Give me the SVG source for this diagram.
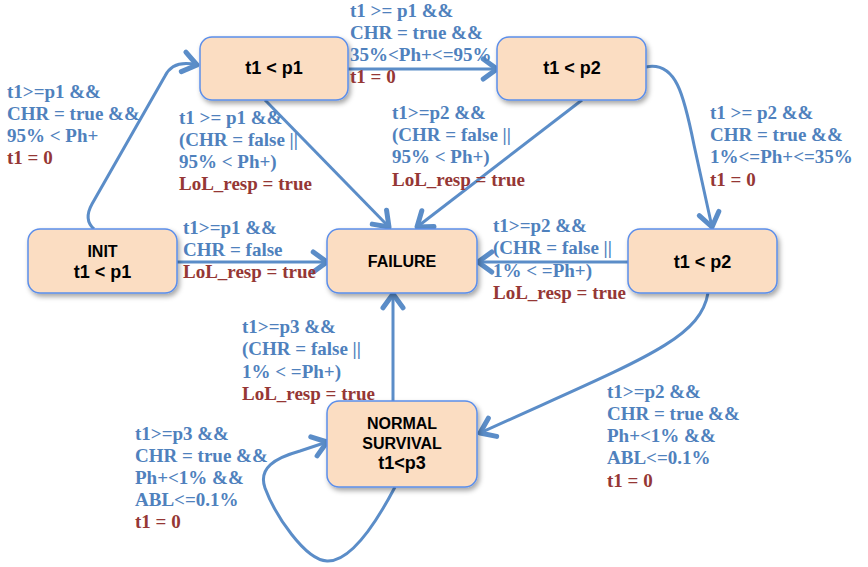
<svg xmlns="http://www.w3.org/2000/svg" width="868" height="567" viewBox="0 0 868 567">
<defs>
<filter id="sh" x="-10%" y="-10%" width="130%" height="140%">
<feDropShadow dx="2" dy="3" stdDeviation="2.5" flood-color="#000" flood-opacity="0.35"/>
</filter>
<marker id="ah" markerUnits="userSpaceOnUse" markerWidth="30" markerHeight="30" refX="0" refY="0" viewBox="-16 -12 20 24" orient="auto" overflow="visible">
<path d="M-11,-8 L0,0 L-11,8" fill="none" stroke="#5B8DC8" stroke-width="4" stroke-linecap="round" stroke-linejoin="round"/>
</marker>
<style>
.n rect{fill:#FBDDC2;stroke:#5B8EEA;stroke-width:1.5;filter:url(#sh)}
.n text{font-family:"Liberation Sans",Arial,sans-serif;font-weight:bold;fill:#000;text-anchor:middle}
.s16{font-size:16px}
.s18{font-size:18px}
.c path{fill:none;stroke:#5B8DC8;stroke-width:3;marker-end:url(#ah)}
.l{font-family:"Liberation Serif","Times New Roman",serif;font-weight:bold;font-size:19px}
.b{fill:#4F81BD}
.r{fill:#953735}
</style>
</defs>
<g class="c" id="connectors">
<path d="M94,229 C86,222 87,213 92,204 L165,76 C170,66 180,61 197,65"/>
<path d="M348,69 L497,69"/>
<path d="M265,100 L389,227"/>
<path d="M582,100 L417,227"/>
<path d="M646,67 C676,61 684,95 694,145 L712,227"/>
<path d="M628,262 L478,262"/>
<path d="M177,262 L327,262"/>
<path d="M393,401 L393,294"/>
<path d="M708,293 C700,340 640,360 480,433"/>
<path d="M395,487 C375,525 350,562 327,561 C305,560 275,515 265,488 C258,468 275,458 300,451 L327,442"/>
</g>
<g class="n" id="n_top1"><rect x="200" y="37" width="148" height="63" rx="12"/><text class="s18" x="274" y="74">t1 &lt; p1</text></g>
<g class="n" id="n_top2"><rect x="497" y="37" width="149" height="63" rx="12"/><text class="s18" x="572" y="74">t1 &lt; p2</text></g>
<g class="n" id="n_init"><rect x="28" y="229" width="149" height="64" rx="12"/><text class="s16" x="102.5" y="257">INIT</text><text class="s18" x="102.5" y="278">t1 &lt; p1</text></g>
<g class="n" id="n_failure"><rect x="327" y="229" width="150" height="64" rx="12"/><text class="s16" x="402" y="267">FAILURE</text></g>
<g class="n" id="n_right"><rect x="628" y="229" width="149" height="64" rx="12"/><text class="s18" x="702.5" y="268">t1 &lt; p2</text></g>
<g class="n" id="n_normal"><rect x="327" y="401" width="150" height="86" rx="12"/><text class="s16" x="402" y="429">NORMAL</text><text class="s16" x="402" y="449">SURVIVAL</text><text class="s18" x="402" y="469">t1&lt;p3</text></g>
<g id="labels" class="l">
<text x="7" y="98" class="b">t1&gt;=p1 &amp;&amp;</text>
<text x="7" y="120" class="b">CHR = true &amp;&amp;</text>
<text x="7" y="142" class="b">95% &lt; Ph+</text>
<text x="7" y="164" class="r">t1 = 0</text>

<text x="179" y="124" class="b">t1 &gt;= p1 &amp;&amp;</text>
<text x="179" y="146" class="b">(CHR = false ||</text>
<text x="179" y="168" class="b">95% &lt; Ph+)</text>
<text x="179" y="190" class="r">LoL_resp = true</text>

<text x="350" y="17" class="b">t1 &gt;= p1 &amp;&amp;</text>
<text x="350" y="39" class="b">CHR = true &amp;&amp;</text>
<text x="350" y="61" class="b">35%&lt;Ph+&lt;=95%</text>
<text x="350" y="83" class="r">t1 = 0</text>

<text x="392" y="119" class="b">t1&gt;=p2 &amp;&amp;</text>
<text x="392" y="141" class="b">(CHR = false ||</text>
<text x="392" y="163" class="b">95% &lt; Ph+)</text>
<text x="392" y="186" class="r">LoL_resp = true</text>

<text x="710" y="119" class="b">t1 &gt;= p2 &amp;&amp;</text>
<text x="710" y="141" class="b">CHR = true &amp;&amp;</text>
<text x="710" y="163" class="b">1%&lt;=Ph+&lt;=35%</text>
<text x="710" y="186" class="r">t1 = 0</text>

<text x="183" y="234" class="b">t1&gt;=p1 &amp;&amp;</text>
<text x="183" y="256" class="b">CHR = false</text>
<text x="183" y="278" class="r">LoL_resp = true</text>

<text x="493" y="232" class="b">t1&gt;=p2 &amp;&amp;</text>
<text x="493" y="254" class="b">(CHR = false ||</text>
<text x="493" y="277" class="b">1% &lt; =Ph+)</text>
<text x="493" y="299" class="r">LoL_resp = true</text>

<text x="242" y="333" class="b">t1&gt;=p3 &amp;&amp;</text>
<text x="242" y="355" class="b">(CHR = false ||</text>
<text x="242" y="378" class="b">1% &lt; =Ph+)</text>
<text x="242" y="400" class="r">LoL_resp = true</text>

<text x="607" y="398" class="b">t1&gt;=p2 &amp;&amp;</text>
<text x="607" y="420" class="b">CHR = true &amp;&amp;</text>
<text x="607" y="442" class="b">Ph+&lt;1% &amp;&amp;</text>
<text x="607" y="464" class="b">ABL&lt;=0.1%</text>
<text x="607" y="487" class="r">t1 = 0</text>

<text x="135" y="440" class="b">t1&gt;=p3 &amp;&amp;</text>
<text x="135" y="462" class="b">CHR = true &amp;&amp;</text>
<text x="135" y="484" class="b">Ph+&lt;1% &amp;&amp;</text>
<text x="135" y="506" class="b">ABL&lt;=0.1%</text>
<text x="135" y="528" class="r">t1 = 0</text>
</g>
</svg>
